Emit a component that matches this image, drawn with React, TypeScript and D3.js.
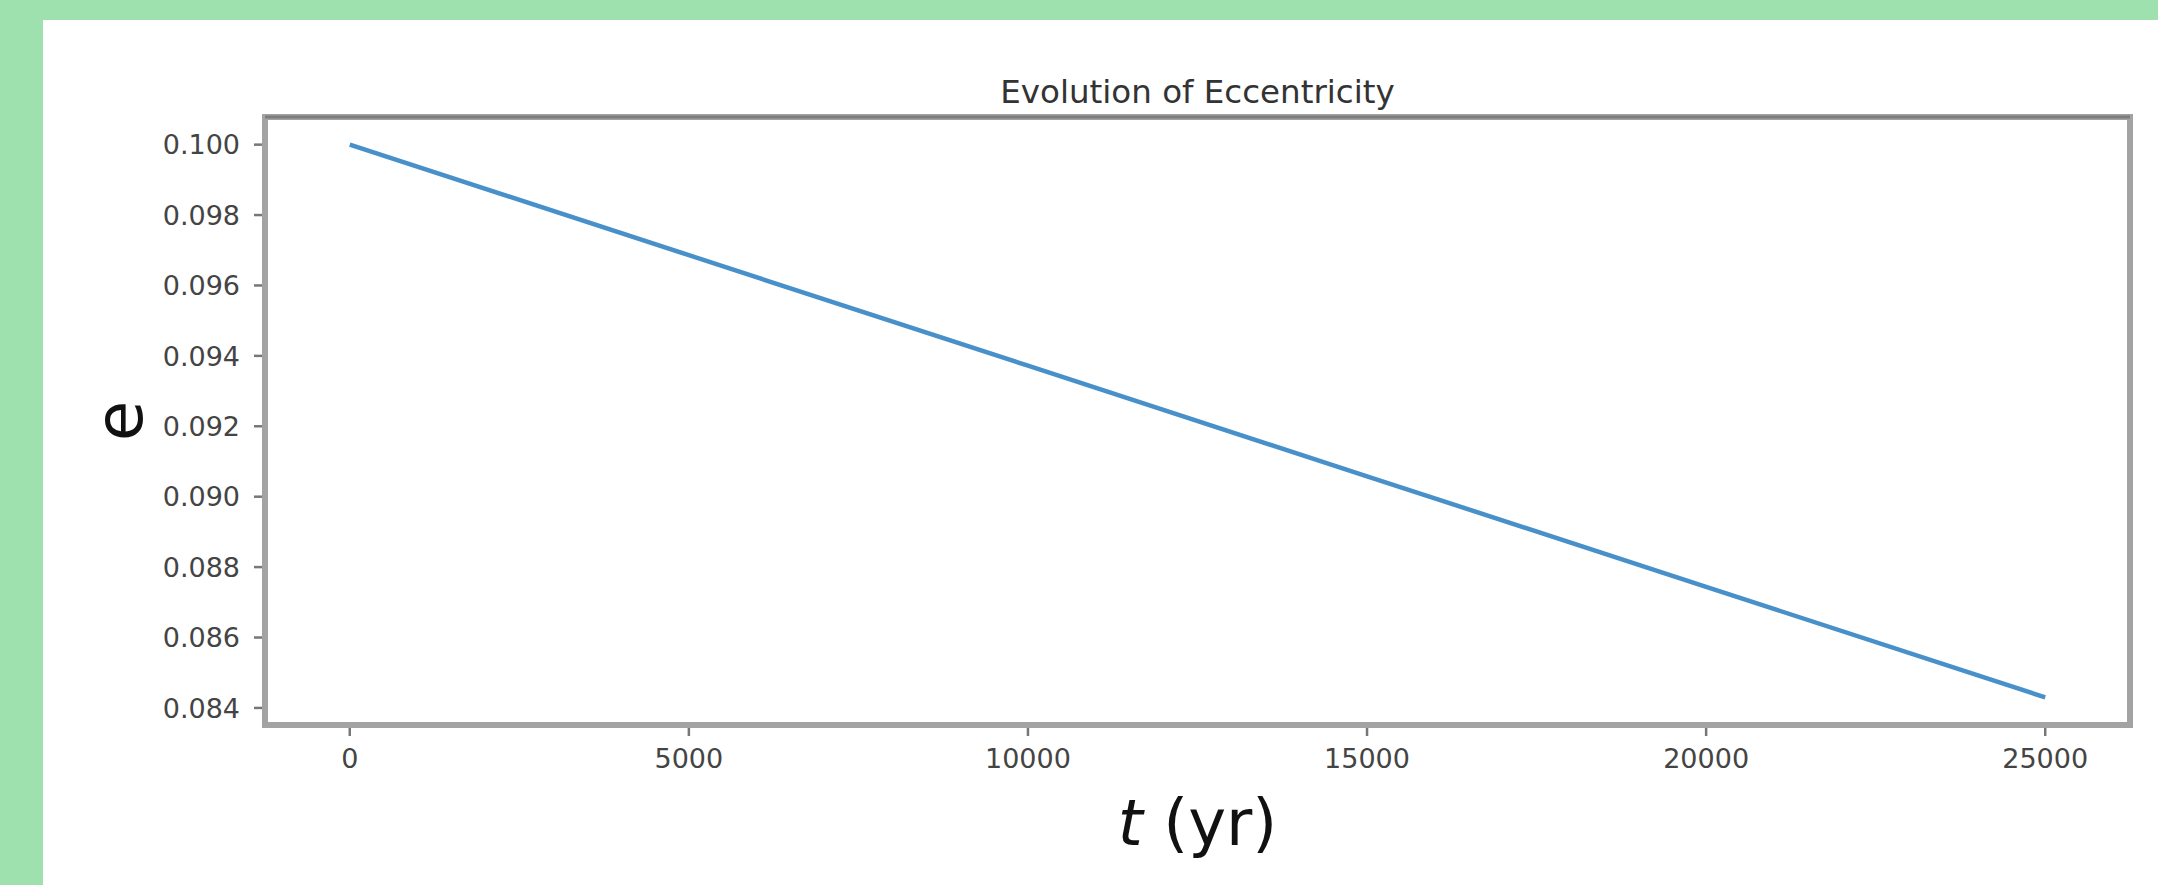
import React, { useEffect, useRef } from 'react';
import * as d3 from 'd3';

// time in years and eccentricity
const times = [0, 5000, 10000, 15000, 20000, 25000];
const ecc = [0.1, 0.09686, 0.09372, 0.09058, 0.08744, 0.0843];
const xTicks = [0, 5000, 10000, 15000, 20000, 25000];
const yTicks = [0.084, 0.086, 0.088, 0.09, 0.092, 0.094, 0.096, 0.098, 0.1];

const App = () => {
  const chartRef = useRef<SVGSVGElement>(null);

  useEffect(() => {
    const svg = d3.select(chartRef.current);
    svg.selectAll('*').remove();

    const width = 2158;
    const height = 885;
    const plot = { left: 265, right: 2130, top: 117, bottom: 725 };
    const font = 'DejaVu Sans, sans-serif';

    // background with the green frame on top and left
    svg.append('rect').attr('width', width).attr('height', height).attr('fill', '#9ee0ae');
    svg.append('rect')
      .attr('x', 43).attr('y', 20)
      .attr('width', width - 43).attr('height', height - 20)
      .attr('fill', '#fff');

    const x = d3.scaleLinear()
      .domain([-1250, 26250])
      .range([plot.left, plot.right]);

    const yMin = d3.min(ecc)!;
    const yMax = d3.max(ecc)!;
    const pad = (yMax - yMin) * 0.05;
    const y = d3.scaleLinear()
      .domain([yMin - pad, yMax + pad])
      .range([plot.bottom, plot.top]);

    // line
    const line = d3.line<number>()
      .x((d, i) => x(times[i]))
      .y(d => y(d));

    svg.append('path')
      .datum(ecc)
      .attr('d', line)
      .attr('fill', 'none')
      .attr('stroke', '#4890c9')
      .attr('stroke-width', 4.5);

    // x ticks
    const xg = svg.append('g');
    xg.selectAll('line')
      .data(xTicks)
      .join('line')
        .attr('x1', d => x(d)).attr('x2', d => x(d))
        .attr('y1', plot.bottom).attr('y2', plot.bottom + 11)
        .attr('stroke', '#777')
        .attr('stroke-width', 2.5);
    xg.selectAll('text')
      .data(xTicks)
      .join('text')
        .attr('x', d => x(d))
        .attr('y', 768)
        .attr('text-anchor', 'middle')
        .attr('font-family', font)
        .attr('font-size', 27)
        .attr('fill', '#444')
        .text(d => String(d));

    // y ticks
    const yg = svg.append('g');
    yg.selectAll('line')
      .data(yTicks)
      .join('line')
        .attr('x1', plot.left - 11).attr('x2', plot.left)
        .attr('y1', d => y(d)).attr('y2', d => y(d))
        .attr('stroke', '#777')
        .attr('stroke-width', 2.5);
    yg.selectAll('text')
      .data(yTicks)
      .join('text')
        .attr('x', 240)
        .attr('y', d => y(d))
        .attr('dy', '0.36em')
        .attr('text-anchor', 'end')
        .attr('font-family', font)
        .attr('font-size', 27)
        .attr('fill', '#444')
        .text(d => d3.format('.3f')(d));

    // spines
    svg.append('rect')
      .attr('x', plot.left).attr('y', plot.top)
      .attr('width', plot.right - plot.left)
      .attr('height', plot.bottom - plot.top)
      .attr('fill', 'none')
      .attr('stroke', '#a3a3a3')
      .attr('stroke-width', 6);
    svg.append('line')
      .attr('x1', plot.left).attr('x2', plot.right)
      .attr('y1', plot.top).attr('y2', plot.top)
      .attr('stroke', '#7d7d7d')
      .attr('stroke-width', 3);

    // title and axis labels
    svg.append('text')
      .attr('x', (plot.left + plot.right) / 2)
      .attr('y', 103)
      .attr('text-anchor', 'middle')
      .attr('font-family', font)
      .attr('font-size', 32.5)
      .attr('fill', '#333')
      .text('Evolution of Eccentricity');

    const xl = svg.append('text')
      .attr('x', (plot.left + plot.right) / 2)
      .attr('y', 845)
      .attr('text-anchor', 'middle')
      .attr('font-family', font)
      .attr('font-size', 64)
      .attr('fill', '#111');
    xl.append('tspan').attr('font-style', 'italic').text('t');
    xl.append('tspan').text(' (yr)');

    svg.append('text')
      .attr('transform', `translate(142,${(plot.top + plot.bottom) / 2}) rotate(-90)`)
      .attr('text-anchor', 'middle')
      .attr('font-family', font)
      .attr('font-size', 66)
      .attr('fill', '#111')
      .text('e');
  }, []);

  return (
    <svg
      ref={chartRef}
      width="2158"
      height="885"
      style={{ position: 'absolute', left: 0, top: 0, display: 'block' }}
    ></svg>
  );
};

export default App;
